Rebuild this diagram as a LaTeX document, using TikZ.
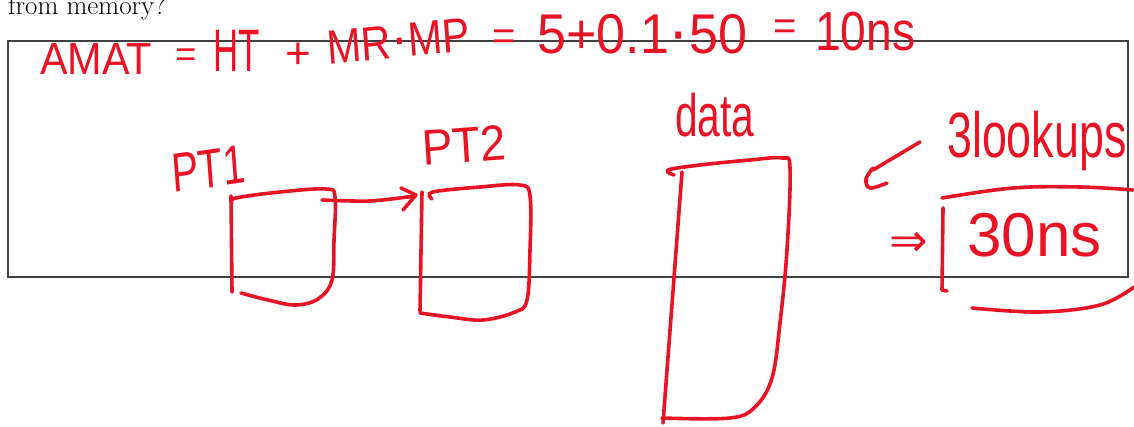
\documentclass[tikz,border=0pt]{standalone}
\usepackage{fontspec}
\newfontfamily\hand{Liberation Sans}
\newfontfamily\symb{DejaVu Sans}
\definecolor{hred}{RGB}{232,20,38}
\newcommand{\hsz}[1]{\hand\fontsize{#1}{#1}\selectfont}
\begin{document}
\begin{tikzpicture}[x=1pt,y=-1pt,
  hand/.style={text=hred,inner sep=0pt,anchor=base west},
  handc/.style={text=hred,inner sep=0pt,anchor=center},
  stroke/.style={draw=hred,line width=3.6pt,line cap=round,line join=round},
  frame/.style={draw=black!75,line width=1.1pt}]
\useasboundingbox (0,0) rectangle (1134,427);
% question text (cut at top)
\node[anchor=base west,inner sep=0pt,font=\fontsize{27}{30}\selectfont] (q) at (8,15) {from memory?};
% answer frame
\draw[frame] (8,41) rectangle (1128,277);

% formula line
\node[hand,font=\hsz{45},xscale=0.92] (amat) at (40,75) {AMAT};
\node[handc,font=\hsz{36}] (eq1) at (186,58) {=};
\node[hand,font=\hsz{60},xscale=0.58] (ht) at (213,72) {HT};
\node[handc,font=\hsz{44}] (plus1) at (298,56) {+};
\node[hand,font=\hsz{48},xscale=0.86,rotate=5] (mrmp) at (328,65) {MR{\fontsize{60}{60}\selectfont ·}MP};
\node[handc,font=\hsz{40}] (eq2) at (504,40) {=};
\node[hand,font=\hsz{56},xscale=0.93] (nums) at (537,54) {5+0.1{\fontsize{66}{66}\selectfont ·}50};
\node[handc,font=\hsz{40}] (eq3) at (785,30) {=};
\node[hand,font=\hsz{55},xscale=0.84] (res) at (815,51) {10ns};

% page tables
\node[hand,font=\hsz{55},xscale=0.73,rotate=6] (pt1) at (173,193) {PT1};
\node[hand,font=\hsz{50},xscale=0.92,rotate=4] (pt2) at (423,166) {PT2};
\node[hand,font=\hsz{60},xscale=0.68] (data) at (675,137) {data};

% box PT1
\draw[stroke] (231,196) -- (232,292);
\draw[stroke] plot[smooth,tension=0.6] coordinates {(232,203) (236,198) (280,192) (326,189) (335,197) (334,240) (332,280) (318,299) (295,305) (268,300) (241,293)};
% arrow PT1 -> PT2
\draw[stroke] plot[smooth] coordinates {(322,200) (370,201) (415,196)};
\draw[stroke] (401,188) -- (416,195) -- (403,210);
% box PT2
\draw[stroke] (422,192) -- (420,311);
\draw[stroke] plot[smooth,tension=0.6] coordinates {(432,199) (433,192) (480,187) (520,185) (530,196) (530,250) (527,300) (515,312) (483,320) (450,317) (420,313)};
% data box
\draw[stroke] (682,172) -- (663,423);
\draw[stroke] plot[smooth,tension=0.6] coordinates {(674,175) (668,170) (700,165) (750,160) (782,158) (790,168) (787,250) (780,323) (772,378) (755,407) (730,418) (662,418)};

% right side
\node[hand,font=\hsz{64},xscale=0.70] (look) at (947,158) {3lookups};
\draw[stroke] (920,142) -- (873,170);
\draw[stroke] plot[smooth,tension=0.6] coordinates {(873,168) (866,179) (870,188) (887,183)};
\draw[stroke] plot[smooth,tension=0.6] coordinates {(942,198) (1013,188) (1080,187) (1133,190)};
\node[handc,font=\symb\fontsize{46}{46}\selectfont,text=hred] (impl) at (909,244) {⇒};
\draw[stroke] (943,208) -- (942,290) -- (947,291);
\node[hand,font=\hsz{62}] (t30) at (967,257) {30ns};
\draw[stroke] plot[smooth,tension=0.6] coordinates {(972,308) (1040,312) (1100,305) (1134,287)};
\end{tikzpicture}
\end{document}
